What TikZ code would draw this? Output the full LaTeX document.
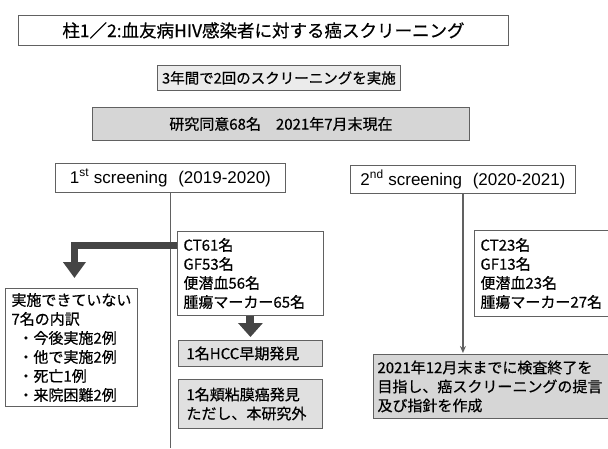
\documentclass[tikz,border=0pt]{standalone}
\usepackage{fontspec}
\setmainfont{Noto Sans CJK JP}[FakeBold=0.5]
\newfontfamily\latinfont{Liberation Sans}
\usepackage{xcolor}
\usepackage{tikz}
\usetikzlibrary{arrows.meta,positioning}

\definecolor{lightfill}{gray}{0.92}
\definecolor{midfill}{gray}{0.84}
\definecolor{softfill}{gray}{0.88}
\definecolor{linegray}{gray}{0.38}
\definecolor{fatgray}{gray}{0.27}

\begin{document}
\begin{tikzpicture}[
		x=1pt, y=-1pt,
		font=\fontsize{15}{19}\selectfont,
		box/.style={draw=linegray, line width=0.9pt,
			inner sep=0pt, anchor=north west},
		txtbox/.style={box, align=left, inner xsep=6pt},
		roundbox/.style={box, font=\latinfont\fontsize{17}{19}\selectfont},
		thinline/.style={linegray, line width=1.3pt},
		arrow/.style={thinline, -{Stealth[length=7pt, width=6pt]}},
		fat/.style={fatgray, line width=7pt,
			-{Triangle[width=22pt, length=16pt]}},
		]
		\useasboundingbox (0,0) rectangle (608,448);
		
		\node[box, minimum width=490pt, minimum height=30pt,
			font=\fontsize{17.5}{20}\selectfont] (title) at (18,15)
		{柱1／2:血友病HIV感染者に対する癌スクリーニング};
		\node[box, fill=lightfill, minimum width=243pt, minimum height=25pt,
			font=\fontsize{14.5}{18}\selectfont] (plan) at (157,65)
		{3年間で2回のスクリーニングを実施};
		\node[box, fill=midfill, minimum width=377pt, minimum height=33pt] (consent) at (92,107)
		{研究同意68名　2021年7月末現在};
		
		% first round
		\node[roundbox, minimum width=230pt, minimum height=29pt] (first) at (55,163)
		{1\textsuperscript{st} screening\hspace{6pt} (2019-2020)};
		\node[txtbox, text width=134pt, minimum height=84pt] (ctA) at (177,231)
		{CT61名\\GF53名\\便潜血56名\\腫瘍マーカー65名};
		\node[txtbox, text width=120pt, minimum height=118pt] (notdone) at (5,288)
		{実施できていない\\7名の内訳\\
			\hspace*{7pt}・今後実施2例\\\hspace*{7pt}・他で実施2例\\
			\hspace*{7pt}・死亡1例\\\hspace*{7pt}・来院困難2例};
		\node[txtbox, fill=softfill, inner xsep=8pt, text width=128pt,
			minimum height=26pt] (hcc) at (178,340) {1名HCC早期発見};
		\node[txtbox, fill=softfill, inner xsep=8pt, text width=128pt,
			minimum height=49pt] (buccal) at (178,379)
		{1名頬粘膜癌発見\\ただし、本研究外};
		\coordinate (bottom) at (170,448);
		
		% second round
		\node[roundbox, minimum width=225pt, minimum height=28pt] (second) at (350,165)
		{2\textsuperscript{nd} screening\hspace{6pt} (2020-2021)};
		\node[txtbox, text width=128pt, minimum height=86pt] (ctB) at (474,230)
		{CT23名\\GF13名\\便潜血23名\\腫瘍マーカー27名};
		\node[txtbox, fill=midfill, inner xsep=4pt, text width=235pt,
			minimum height=64pt] (goal) at (373,354)
		{2021年12月末までに検査終了を\\目指し、癌スクリーニングの提言\\及び指針を作成};
		
		\draw[thinline] (first.south) -- (first.south |- bottom);
		\draw[fat] ([yshift=-14pt]ctA.north west) -| ([shift={(3pt,10pt)}]notdone.north);
		\draw[fat, line width=8pt, -{Triangle[width=24pt, length=14pt]}]
		(ctA.south) -- ([yshift=3pt]hcc.north);
		\draw[arrow, shorten >=1pt] (second.south) -- (second.south |- goal.north);
		
	\end{tikzpicture}
\end{document}
